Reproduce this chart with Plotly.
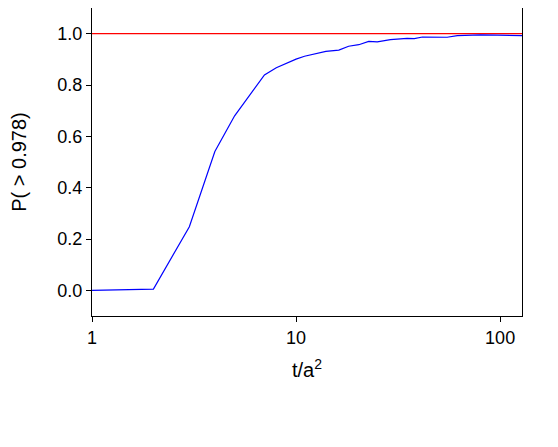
import plotly.graph_objects as go

# t/a^2 sample points and P(> 0.978)
t_vals = [1, 2, 3, 4, 5, 6, 7, 8, 9, 10, 11, 12.7, 14, 16.2, 18.1, 20.3, 22.7, 25, 29,
          35, 38, 41.6, 48, 55, 61.7, 70, 80, 97, 110, 128]
p_vals = [0.0, 0.005, 0.248, 0.541, 0.68, 0.766, 0.839, 0.867, 0.885, 0.901, 0.912,
          0.925, 0.931, 0.936, 0.951, 0.957, 0.970, 0.968, 0.977,
          0.982, 0.981, 0.987, 0.986, 0.986, 0.992, 0.994, 0.995, 0.994, 0.992, 0.992]

ref_level = 1.0
x_ticks = [1, 10, 100]
y_ticks = [0.0, 0.2, 0.4, 0.6, 0.8, 1.0]

fig = go.Figure()
fig.add_trace(go.Scatter(x=[1, 128], y=[ref_level, ref_level], mode="lines",
                         line=dict(color="#ff0000", width=1.4), showlegend=False))
fig.add_trace(go.Scatter(x=t_vals, y=p_vals, mode="lines",
                         line=dict(color="#0000ff", width=1.2), showlegend=False))

fnt = "Liberation Sans, Arial, sans-serif"
tick_font = dict(family=fnt, size=18, color="black")

fig.update_layout(
    width=550, height=439,
    margin=dict(l=84, r=36, t=0, b=131),
    plot_bgcolor="white", paper_bgcolor="white",
    font=dict(family=fnt, size=17, color="black"),
)
fig.update_xaxes(type="log", range=[0, 2.1072], tickvals=x_ticks, ticktext=[str(v) for v in x_ticks],
                 ticks="outside", ticklen=5, tickcolor="black", showline=True, linecolor="black",
                 linewidth=1, mirror=True, showgrid=False, zeroline=False, tickfont=tick_font,
                 title_text="t/a<sup>2</sup>", title_standoff=16)
fig.update_yaxes(range=[-0.1, 1.1], tickvals=y_ticks, ticktext=[f"{v:.1f}" for v in y_ticks],
                 ticks="outside", ticklen=5, tickcolor="black", showline=True, linecolor="black",
                 linewidth=1, mirror=True, showgrid=False, zeroline=False, tickfont=tick_font,
                 title_text="P( > 0.978)", title_standoff=26)

fig.write_html("out.html")
